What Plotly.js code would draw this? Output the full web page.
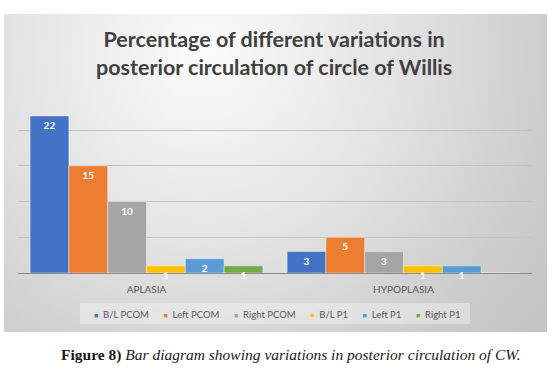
<!DOCTYPE html>
<html>
<head>
<meta charset="utf-8">
<script src="https://cdn.plot.ly/plotly-3.0.1.min.js"></script>
<style>
html,body{margin:0;padding:0;background:#fff;}
#chart{width:560px;height:372px;}
</style>
</head>
<body>
<div id="chart"></div>
<script>
// ---- data ----
const categories = ["APLASIA", "HYPOPLASIA"];
const seriesNames = ["B/L PCOM", "Left PCOM", "Right PCOM", "B/L P1", "Left P1", "Right P1"];
const blPcom    = [22, 3];
const leftPcom  = [15, 5];
const rightPcom = [10, 3];
const blP1      = [1, 1];
const leftP1    = [2, 1];
const rightP1   = [1, 0];
const seriesValues = [blPcom, leftPcom, rightPcom, blP1, leftP1, rightP1];
const seriesColors = ["#4472C4", "#ED7D31", "#A5A5A5", "#FFC000", "#5B9BD5", "#70AD47"];
const yTicks = [0, 5, 10, 15, 20, 25];

// ---- layout helpers ----
const W = 560, H = 372;
const panel = {x0: 4, y0: 14, x1: 547, y1: 332};
const pw = panel.x1 - panel.x0, ph = panel.y1 - panel.y0;
const svg = "<svg xmlns='http://www.w3.org/2000/svg' width='" + pw + "' height='" + ph + "'>" +
  "<defs><radialGradient id='g' gradientUnits='userSpaceOnUse' cx='200' cy='40' r='460'>" +
  "<stop offset='0' stop-color='#fbfbfb'/>" +
  "<stop offset='0.42' stop-color='#e3e3e3'/>" +
  "<stop offset='0.75' stop-color='#cdcdcd'/>" +
  "<stop offset='1' stop-color='#c1c1c1'/>" +
  "</radialGradient></defs>" +
  "<rect width='" + pw + "' height='" + ph + "' fill='url(#g)'/></svg>";
const bgSrc = "data:image/svg+xml;charset=utf-8," + encodeURIComponent(svg);

const font = "Lato, 'Open Sans', sans-serif";

const traces = seriesNames.map((name, i) => ({
  type: "bar",
  name: name,
  x: categories,
  y: seriesValues[i],
  text: seriesValues[i].map(String),
  textposition: "inside",
  insidetextanchor: "end",
  textangle: 0,
  constraintext: "none",
  cliponaxis: false,
  insidetextfont: {family: font, size: 10, color: "#ffffff", weight: "bold"},
  marker: {color: seriesColors[i], line: {color: "rgba(255,255,255,0.55)", width: 0.8}},
  showlegend: false,
  hoverinfo: "skip"
}));

// custom legend text built from names & colours
const NB = "\u00a0";
const legendText = seriesNames.map((n, i) =>
  "<span style='color:" + seriesColors[i] + ";font-size:7px'>■</span>" + NB + NB + n
).join(NB.repeat(6));

const layout = {
  width: W, height: H,
  margin: {l: 0, r: 0, t: 0, b: 0, pad: 0},
  paper_bgcolor: "#ffffff",
  plot_bgcolor: "rgba(0,0,0,0)",
  barmode: "group",
  bargap: 0.094,
  bargroupgap: 0,
  showlegend: false,
  font: {family: font, color: "#595959"},
  xaxis: {
    domain: [18 / W, 532 / W],
    type: "category",
    showgrid: false,
    showline: false,
    ticks: "outside",
    ticklen: 7,
    tickcolor: "rgba(0,0,0,0)",
    tickfont: {family: font, size: 10, color: "#595959"},
    automargin: false,
    fixedrange: true
  },
  yaxis: {
    domain: [(H - 273) / H, (H - 94.5) / H],
    range: [0, 25],
    tickvals: yTicks,
    showticklabels: false,
    showgrid: true,
    gridcolor: "#c4c4c4",
    gridwidth: 1,
    zeroline: true,
    zerolinecolor: "#8a8a8a",
    zerolinewidth: 1,
    showline: false,
    ticks: "",
    automargin: false,
    fixedrange: true
  },
  images: [{
    source: bgSrc,
    xref: "paper", yref: "paper",
    x: panel.x0 / W, y: 1 - panel.y0 / H,
    sizex: pw / W, sizey: ph / H,
    xanchor: "left", yanchor: "top",
    sizing: "stretch",
    layer: "below"
  }],
  shapes: [{
    type: "rect", xref: "paper", yref: "paper",
    x0: 80 / W, x1: 470 / W, y0: 1 - 324 / H, y1: 1 - 303 / H,
    fillcolor: "rgba(245,245,245,0.45)", line: {width: 0}, layer: "below"
  }],
  annotations: [
    {
      text: "Percentage of different variations in<br>posterior circulation of circle of Willis",
      xref: "paper", yref: "paper",
      x: 274 / W, y: 1 - 53 / H, xanchor: "center", yanchor: "middle",
      showarrow: false,
      font: {family: font, size: 21.5, color: "#404040", weight: "bold"}
    },
    {
      text: legendText,
      xref: "paper", yref: "paper",
      x: 277 / W, y: 1 - 314 / H, xanchor: "center", yanchor: "middle",
      showarrow: false,
      font: {family: font, size: 9.5, color: "#595959"}
    },
    {
      text: "<b>Figure 8)</b> <i>Bar diagram showing variations in posterior circulation of CW.</i>",
      xref: "paper", yref: "paper",
      x: 291 / W, y: 1 - 355 / H, xanchor: "center", yanchor: "middle",
      showarrow: false,
      font: {family: "'Liberation Serif', 'DejaVu Serif', serif", size: 15.5, color: "#1a1a1a"}
    }
  ]
};

Plotly.newPlot("chart", traces, layout, {staticPlot: true, displayModeBar: false});
</script>
</body>
</html>
